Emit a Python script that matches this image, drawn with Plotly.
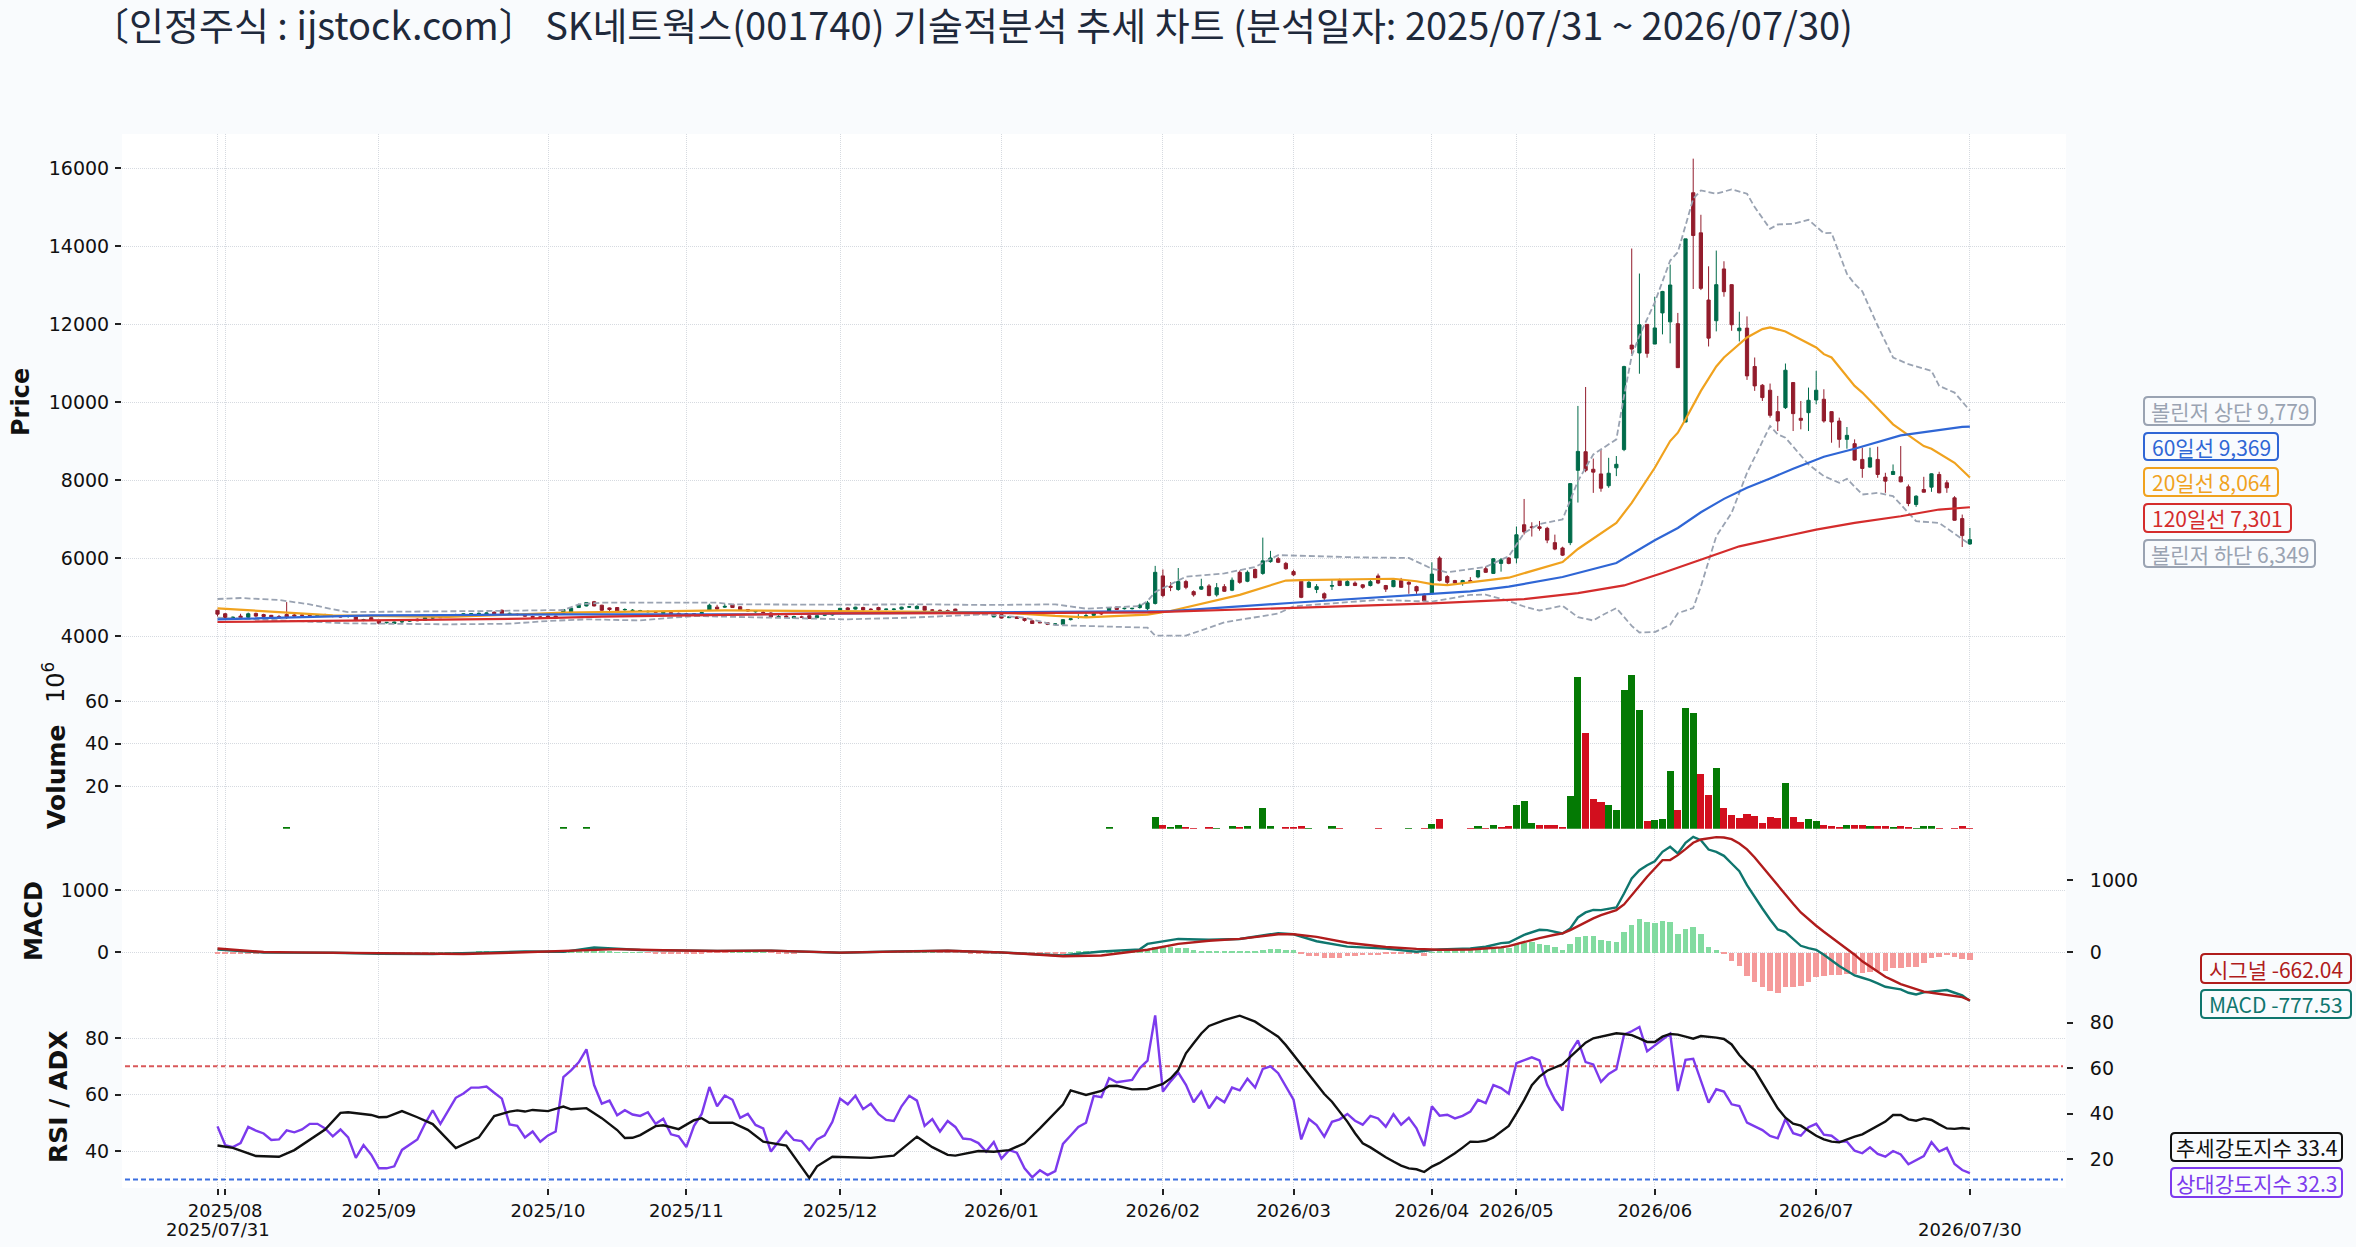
"""
SK네트웍스(001740) 기술적분석 추세 차트 - 캔들, 거래량, MACD, RSI/ADX 4단 구성
x축은 거래일 순번(0 ~ 228)을 쓰고 눈금 글자만 날짜로 표시한다.
"""

import plotly.graph_objects as go

# ── 캔들 (거래일 순번 0 ~ 228) ───────────────────────────────────────────────
opens = [
    4660, 4570, 4460, 4510, 4480, 4580, 4550, 4530, 4500, 4550,
    4540, 4540, 4530, 4520, 4530, 4510, 4510, 4500, 4500, 4410,
    4470, 4400, 4340, 4320, 4360, 4380, 4430, 4400, 4460, 4540,
    4490, 4530, 4530, 4560, 4570, 4570, 4610, 4660, 4570, 4560,
    4540, 4500, 4490, 4510, 4510, 4570, 4600, 4730, 4770, 4880,
    4790, 4720, 4730, 4670, 4650, 4640, 4620, 4620, 4580, 4600,
    4580, 4570, 4570, 4570, 4660, 4740, 4740, 4810, 4750, 4680,
    4620, 4610, 4590, 4490, 4510, 4460, 4490, 4520, 4470, 4530,
    4540, 4640, 4720, 4690, 4730, 4690, 4730, 4680, 4680, 4690,
    4740, 4700, 4760, 4670, 4660, 4650, 4690, 4620, 4600, 4590,
    4570, 4490, 4550, 4470, 4490, 4450, 4390, 4350, 4340, 4300,
    4300, 4420, 4480, 4500, 4530, 4580, 4640, 4740, 4700, 4700,
    4730, 4700, 4835, 5541, 5275, 5193, 5395, 5138, 5202, 5284,
    5055, 5266, 5174, 5633, 5404, 5706, 5605, 5908, 5982, 5862,
    5651, 5404, 5248, 5193, 5083, 5275, 5422, 5294, 5358, 5312,
    5294, 5541, 5294, 5266, 5422, 5376, 5266, 5037, 5083, 6000,
    5523, 5422, 5358, 5422, 5514, 5725, 5605, 5862, 6000, 6000,
    6853, 6800, 6800, 6761, 6394, 6257, 6394, 8248, 8725, 8275,
    8156, 7853, 8312, 8780, 11459, 11257, 11991, 11486, 12284, 12055,
    12009, 9486, 15366, 14338, 12615, 12084, 13412, 13009, 11827, 11895,
    10910, 10430, 10302, 9753, 9856, 10499, 9582, 9727, 10053, 10070,
    9753, 9513, 9042, 8931, 8528, 8331, 8528, 8074, 8142, 8082,
    7825, 7371, 7757, 7817, 8142, 7928, 7542, 7011, 6360,
]
highs = [
    4670, 4590, 4500, 4570, 4600, 4600, 4570, 4540, 4540, 4870,
    4570, 4550, 4550, 4540, 4570, 4530, 4530, 4530, 4520, 4440,
    4480, 4410, 4360, 4370, 4400, 4420, 4450, 4480, 4480, 4550,
    4540, 4570, 4580, 4590, 4600, 4600, 4630, 4680, 4600, 4590,
    4560, 4520, 4510, 4530, 4520, 4690, 4720, 4830, 4870, 4900,
    4800, 4730, 4740, 4710, 4690, 4670, 4660, 4640, 4620, 4620,
    4600, 4590, 4590, 4620, 4830, 4800, 4820, 4820, 4760, 4690,
    4650, 4640, 4610, 4540, 4530, 4520, 4520, 4530, 4530, 4560,
    4580, 4720, 4740, 4750, 4750, 4710, 4750, 4700, 4710, 4750,
    4770, 4790, 4770, 4690, 4680, 4680, 4700, 4640, 4620, 4610,
    4600, 4570, 4560, 4510, 4500, 4460, 4400, 4370, 4350, 4320,
    4430, 4450, 4560, 4600, 4590, 4610, 4740, 4760, 4730, 4720,
    4830, 4900, 5798, 5706, 5380, 5743, 5440, 5170, 5468, 5330,
    5358, 5330, 5500, 5680, 5680, 5730, 6523, 6183, 6030, 5900,
    5700, 5440, 5440, 5330, 5120, 5440, 5470, 5450, 5400, 5330,
    5450, 5600, 5310, 5470, 5490, 5420, 5290, 5100, 5890, 6046,
    5560, 5440, 5440, 5510, 5690, 5780, 6000, 6000, 6020, 6807,
    7514, 6917, 6950, 6800, 6600, 6290, 7920, 9899, 10385, 8550,
    8798, 8569, 8615, 10930, 13936, 13294, 12000, 12697, 12850, 13523,
    12284, 14183, 16240, 14801, 13480, 13883, 13609, 13020, 12315, 12195,
    11141, 10460, 10473, 10156, 10987, 10510, 10027, 10370, 10799, 10327,
    9760, 9599, 9359, 9042, 8828, 8828, 8853, 8185, 8399, 8871,
    7885, 7610, 8082, 8170, 8211, 7997, 7585, 7114, 6771,
]
lows = [
    4500, 4440, 4440, 4450, 4450, 4490, 4480, 4470, 4460, 4440,
    4480, 4500, 4500, 4490, 4500, 4480, 4480, 4470, 4380, 4380,
    4390, 4300, 4320, 4310, 4340, 4360, 4380, 4390, 4440, 4460,
    4470, 4510, 4510, 4540, 4540, 4550, 4560, 4560, 4540, 4520,
    4500, 4470, 4470, 4470, 4440, 4560, 4590, 4720, 4760, 4760,
    4650, 4620, 4630, 4650, 4630, 4620, 4600, 4590, 4560, 4550,
    4550, 4540, 4550, 4550, 4640, 4680, 4720, 4720, 4660, 4620,
    4600, 4580, 4480, 4470, 4470, 4450, 4470, 4440, 4460, 4510,
    4520, 4620, 4660, 4680, 4650, 4660, 4650, 4660, 4660, 4680,
    4720, 4690, 4650, 4650, 4640, 4630, 4620, 4570, 4570, 4560,
    4540, 4480, 4450, 4460, 4440, 4370, 4310, 4330, 4280, 4270,
    4290, 4400, 4440, 4480, 4500, 4540, 4620, 4670, 4680, 4680,
    4700, 4660, 4807, 4991, 5150, 5160, 5200, 5010, 5180, 5020,
    5010, 5130, 5150, 5340, 5380, 5480, 5570, 5880, 5870, 5700,
    5540, 4970, 5230, 5100, 4910, 5180, 5280, 5280, 5280, 5210,
    5270, 5330, 5130, 5250, 5240, 5082, 5080, 4880, 5050, 5400,
    5330, 5330, 5290, 5380, 5480, 5620, 5590, 5650, 5840, 5862,
    6600, 6550, 6700, 6380, 6200, 6050, 6330, 7422, 8200, 7670,
    7700, 7800, 8100, 8740, 11229, 10725, 11137, 11486, 11734, 11505,
    10881, 9486, 12898, 12870, 11424, 11811, 12700, 11827, 11553, 10567,
    10285, 10027, 9599, 9256, 9820, 9256, 9299, 9256, 9942, 9470,
    8956, 8828, 8802, 8500, 8057, 8314, 8057, 7671, 8140, 7940,
    7328, 7311, 7680, 7697, 7660, 7671, 6960, 6283, 6340,
]
closes = [
    4560, 4470, 4480, 4470, 4570, 4510, 4500, 4490, 4460, 4470,
    4510, 4530, 4520, 4530, 4510, 4500, 4490, 4510, 4400, 4420,
    4400, 4330, 4350, 4360, 4370, 4400, 4390, 4470, 4470, 4470,
    4520, 4540, 4570, 4570, 4580, 4590, 4570, 4570, 4580, 4550,
    4510, 4480, 4480, 4490, 4450, 4680, 4710, 4790, 4860, 4770,
    4660, 4680, 4640, 4680, 4660, 4650, 4630, 4610, 4610, 4570,
    4560, 4550, 4560, 4600, 4790, 4690, 4760, 4730, 4670, 4640,
    4630, 4600, 4490, 4500, 4490, 4500, 4480, 4450, 4520, 4550,
    4560, 4710, 4670, 4740, 4670, 4680, 4670, 4690, 4690, 4740,
    4750, 4760, 4660, 4660, 4650, 4640, 4640, 4590, 4580, 4570,
    4560, 4550, 4460, 4490, 4450, 4400, 4320, 4340, 4300, 4310,
    4420, 4440, 4490, 4520, 4580, 4570, 4730, 4680, 4710, 4710,
    4790, 4850, 5633, 5037, 5250, 5395, 5248, 5055, 5266, 5037,
    5239, 5147, 5431, 5376, 5633, 5495, 5927, 6000, 5890, 5725,
    5569, 4991, 5376, 5266, 4973, 5295, 5294, 5395, 5294, 5248,
    5394, 5358, 5202, 5422, 5248, 5330, 5156, 4899, 5587, 5422,
    5376, 5358, 5422, 5400, 5679, 5633, 5982, 5954, 5862, 6596,
    6670, 6780, 6760, 6459, 6229, 6073, 7908, 8734, 8248, 8202,
    7789, 8174, 8403, 10908, 11358, 11981, 11248, 11899, 12835, 13000,
    10881, 14183, 14269, 12915, 11638, 13009, 12829, 11981, 11895, 10670,
    10413, 10113, 9659, 9513, 10815, 9702, 9531, 10045, 10302, 9513,
    9488, 9042, 9145, 8511, 8296, 8571, 8142, 7971, 8219, 7954,
    7397, 7585, 7688, 8159, 7671, 7800, 6968, 6574, 6471,
]

# ── 이동평균 / 볼린저 밴드 (순번, 값) ─────────────────────────────────────────
ma20 = [(0, 4709), (10, 4598), (15, 4530), (30, 4487), (45, 4598), (66, 4658), (90, 4624), (102, 4606),
        (109, 4514), (113, 4480), (121, 4550), (124, 4642), (133, 5055), (139, 5422), (141, 5431),
        (147, 5450), (153, 5468), (156, 5404), (158, 5330), (160, 5303), (168, 5495), (175, 5897),
        (177, 6231), (182, 6900), (184, 7414), (187, 8314), (189, 8999), (190, 9213), (191, 9556),
        (193, 10285), (195, 10910), (196, 11141), (199, 11655), (201, 11870), (202, 11913), (204, 11810),
        (206, 11596), (208, 11398), (209, 11227), (210, 11141), (213, 10413), (214, 10242), (218, 9428),
        (220, 9154), (222, 8871), (223, 8803), (226, 8442), (228, 8064)]
ma60 = [(0, 4427), (10, 4487), (20, 4530), (30, 4538), (45, 4555), (66, 4555), (90, 4598), (102, 4610),
        (113, 4620), (124, 4640), (140, 4853), (158, 5083), (163, 5147), (168, 5266), (175, 5514),
        (182, 5871), (187, 6454), (190, 6771), (193, 7174), (196, 7517), (199, 7800), (202, 8039),
        (205, 8288), (209, 8596), (213, 8802), (219, 9145), (223, 9256), (227, 9360), (228, 9369)]
ma120 = [(0, 4359), (15, 4385), (25, 4400), (40, 4444), (50, 4496), (66, 4538), (80, 4581), (102, 4587),
         (121, 4606), (139, 4716), (158, 4835), (170, 4945), (177, 5100), (183, 5297), (188, 5614),
         (194, 6026), (198, 6300), (204, 6557), (208, 6728), (213, 6900), (219, 7071), (224, 7243), (228, 7301)]
bb_upper = [(0, 4949), (3, 4974), (8, 4923), (12, 4812), (15, 4684), (17, 4615), (35, 4641), (45, 4667),
            (47, 4812), (50, 4855), (65, 4855), (67, 4812), (80, 4803), (92, 4812), (100, 4795), (109, 4812),
            (113, 4701), (120, 4769), (121, 4897), (122, 5128), (126, 5523), (131, 5606), (135, 5771),
            (138, 6073), (148, 6018), (155, 6000), (158, 5725), (160, 5633), (165, 5771), (168, 6046),
            (170, 6642), (172, 6872), (175, 6990), (177, 7971), (179, 8656), (182, 9042), (183, 10156),
            (184, 11184), (185, 11698), (187, 12555), (189, 13626), (190, 13841), (192, 15212), (193, 15425),
            (195, 15340), (197, 15452), (199, 15340), (200, 14997), (202, 14440), (203, 14552), (205, 14569),
            (207, 14672), (209, 14329), (210, 14337), (212, 13284), (213, 13027), (214, 12838), (216, 11955),
            (218, 11141), (220, 10970), (223, 10799), (224, 10413), (226, 10242), (228, 9779)]
bb_lower = [(0, 4470), (6, 4427), (10, 4385), (17, 4325), (30, 4299), (38, 4315), (43, 4385), (48, 4427),
            (55, 4400), (62, 4513), (66, 4496), (75, 4470), (82, 4427), (90, 4470), (100, 4555), (105, 4470),
            (109, 4280), (121, 4214), (122, 4009), (126, 4009), (131, 4349), (138, 4578), (140, 4761),
            (151, 4927), (158, 4881), (163, 5055), (165, 5060), (168, 4899), (170, 4757), (172, 4655),
            (175, 4775), (177, 4483), (179, 4398), (180, 4517), (182, 4715), (184, 4260), (185, 4090),
            (187, 4100), (189, 4286), (190, 4586), (192, 4715), (193, 5272), (195, 6557), (196, 6857),
            (197, 7157), (199, 8185), (202, 9385), (203, 9171), (204, 9085), (207, 8399), (209, 8100),
            (211, 7928), (212, 8031), (214, 7628), (216, 7671), (218, 7585), (221, 6943), (224, 6900), (228, 6349)]

# ── 거래량 (백만 주) ──────────────────────────────────────────────────────────
volume = [
    0, 0, 0, 0, 0, 0, 0, 0, 0, .9,
    0, 0, 0, 0, 0, 0, 0, 0, 0, 0,
    0, 0, 0, 0, 0, 0, 0, 0, 0, 0,
    0, 0, 0, 0, 0, 0, 0, 0, 0, 0,
    0, 0, 0, 0, 0, .4, 0, 0, .8, 0,
    0, 0, 0, 0, 0, 0, 0, 0, 0, 0,
    0, 0, 0, 0, 0, 0, 0, 0, 0, 0,
    0, 0, 0, 0, 0, 0, 0, 0, 0, 0,
    0, 0, 0, 0, 0, 0, 0, 0, 0, 0,
    0, 0, 0, 0, 0, 0, 0, 0, 0, 0,
    0, 0, 0, 0, 0, 0, 0, 0, 0, 0,
    0, 0, 0, 0, 0, 0, .4, 0, 0, 0,
    0, 0, 5.6, 2, .7, 2, .4, .2, 0, .7,
    .3, 0, 1.1, .7, 1.1, 0, 10, 1.5, 0, .7,
    .7, 1.5, .3, 0, 0, 1.1, .3, 0, 0, 0,
    0, .3, 0, 0, 0, .3, 0, .3, 2.2, 4.4,
    0, 0, 0, .3, 1.1, .2, 1.9, .8, 1.1, 11.1,
    13, 2.5, 1.6, 1.6, 1.6, .8, 15.4, 71.3, 45, 14,
    12.6, 11.1, 8.8, 65.1, 72.3, 56, 3.5, 4, 4.5, 27.4,
    8.8, 57, 54.6, 25.8, 15.9, 28.8, 9.7, 6.4, 4.9, 6.8,
    5.9, 2.5, 5.4, 4.9, 21.7, 5.4, 3, 4.5, 3.5, 1.6,
    1.1, .6, 1.6, 1.6, 1.6, 1.1, 1.1, 1.1, .6, 1.1,
    .6, .3, 1.1, 1.1, .3, 0, .3, 1.1, .3,
]

# ── MACD ──────────────────────────────────────────────────────────────────────
macd_hist = [
    -25, -25, -20, -18, -10, -6, -3, -2, -3, -2,
    -2, -2, 2, -2, -3, -2, -3, -4, -4, -8,
    -15, -15, -12, -10, -8, -8, -6, -4, 2, 4,
    6, 8, 8, 10, 12, 12, 10, 10, 8, 8,
    6, 5, 3, 2, 3, 15, 20, 22, 20, 18,
    15, 12, 8, 5, 3, 1, -3, -6, -8, -8,
    -10, -12, -15, -12, -5, -3, -2, 2, 2, 3,
    3, 2, -5, -8, -10, -8, -5, -3, -2, 0,
    -3, 3, 5, 8, 8, 6, 6, 4, 4, 6,
    6, 5, 4, 2, -2, -3, -4, -5, -6, -6,
    -6, -8, -8, -8, -10, -10, -10, -8, -8, -10,
    -10, 5, 15, 25, 25, 25, 25, 30, 30, 45,
    45, 45, 93, 93, 93, 75, 75, 45, 25, 25,
    25, 25, 25, 25, 25, 25, 45, 60, 60, 45,
    45, -20, -50, -50, -80, -80, -80, -50, -50, -35,
    -35, -35, -25, -25, -20, -20, -20, -50, 10, 43,
    43, 43, 43, 43, 48, 59, 70, 70, 75, 134,
    155, 166, 144, 118, 91, 37, 134, 251, 262, 262,
    198, 182, 166, 326, 438, 535, 487, 471, 503, 487,
    294, 374, 406, 294, 86, 37, -21, -139, -219, -380,
    -476, -556, -620, -652, -556, -556, -540, -476, -396, -380,
    -364, -364, -348, -348, -332, -316, -300, -300, -251, -251,
    -235, -235, -171, -91, -75, -43, -75, -107, -123,
]
macd_line = [(0, 45), (3, 25), (6, 0), (15, -5), (21, -20), (28, -25), (35, 0), (40, 15), (45, 10), (49, 80),
             (55, 40), (65, 25), (72, 30), (81, -5), (88, 15), (95, 28), (102, 0), (110, -50), (112, -20),
             (115, 15), (120, 50), (121, 137), (125, 217), (129, 205), (133, 217), (138, 310), (140, 292),
             (143, 180), (147, 93), (152, 62), (156, 12), (159, 50), (163, 64), (165, 91), (167, 150), (168, 160),
             (170, 283), (172, 364), (173, 358), (175, 305), (176, 385), (177, 561), (178, 642), (179, 684),
             (180, 679), (181, 706), (182, 722), (183, 947), (184, 1187), (185, 1321), (186, 1401), (187, 1465),
             (188, 1615), (189, 1695), (190, 1588), (191, 1759), (192, 1856), (193, 1802), (194, 1652), (195, 1615),
             (196, 1551), (197, 1428), (198, 1305), (199, 1080), (200, 882), (201, 706), (202, 529), (203, 369),
             (204, 326), (205, 209), (206, 107), (207, 70), (208, 43), (209, -37), (210, -134), (211, -219),
             (212, -294), (213, -369), (214, -406), (215, -444), (216, -497), (217, -551), (218, -572), (219, -594),
             (220, -647), (221, -674), (222, -642), (223, -626), (224, -615), (225, -604), (226, -647), (227, -690),
             (228, -777.53)]
macd_signal = [(0, 53), (3, 30), (6, 5), (10, 0), (15, -5), (21, -15), (28, -28), (32, -22), (38, -5), (43, 15),
               (47, 25), (52, 45), (58, 30), (65, 20), (72, 25), (81, -3), (88, 10), (95, 22), (102, 0), (110, -53),
               (115, -43), (121, 37), (125, 118), (129, 160), (133, 187), (138, 251), (140, 251), (143, 214),
               (147, 134), (152, 75), (156, 48), (159, 37), (163, 41), (165, 55), (167, 69), (168, 87), (170, 143),
               (172, 198), (174, 244), (175, 262), (176, 308), (177, 364), (178, 419), (179, 470), (180, 516),
               (182, 585), (183, 663), (184, 792), (185, 916), (186, 1045), (187, 1160), (188, 1275), (189, 1275),
               (190, 1344), (191, 1427), (192, 1515), (193, 1561), (194, 1579), (195, 1593), (196, 1588), (197, 1565),
               (198, 1505), (199, 1423), (200, 1312), (201, 1183), (202, 1054), (203, 916), (204, 787), (205, 672),
               (206, 552), (207, 456), (208, 368), (209, 285), (210, 207), (211, 124), (212, 50), (213, -32),
               (214, -124), (215, -198), (216, -271), (217, -336), (218, -387), (219, -437), (220, -474), (221, -511),
               (222, -543), (223, -557), (224, -571), (225, -589), (226, -603), (227, -617), (228, -662.04)]

# ── RSI / ADX ─────────────────────────────────────────────────────────────────
rsi = [
    48.8, 42.2, 41.5, 42.9, 48.6, 47.3, 46.3, 44, 44.2, 47.4,
    46.7, 47.7, 49.7, 49.7, 48.1, 45.3, 47.7, 44.9, 37.7, 42.2,
    38.8, 34, 34, 34.7, 40.5, 42.2, 44.2, 49.7, 54.5, 49.7,
    54.5, 58.9, 60.4, 62.5, 62.5, 62.9, 60.7, 58.6, 49.5, 49,
    44.9, 47, 43.4, 45.6, 47, 66.2, 68.6, 71.4, 76, 63.4,
    56.8, 57.9, 52.7, 54.5, 53, 52.5, 53.8, 49.7, 51.5, 46,
    45.3, 41.5, 49, 53.2, 62.7, 55.9, 59.7, 58.2, 51.8, 53.2,
    49.3, 48.1, 39.9, 43.3, 47, 44, 43.6, 40.4, 44.2, 45.6,
    50.4, 58.6, 56.6, 59.6, 54.9, 56.8, 53.2, 51.1, 50.7, 55.9,
    59.6, 57.9, 49, 51.4, 47, 50.7, 48.6, 44.5, 44.2, 42.9,
    39.9, 43.3, 37.4, 40.4, 39.5, 34, 30.8, 33.3, 31.6, 33,
    42.6, 45.6, 48.6, 50.1, 59.6, 59.1, 65.8, 64.4, 64.8, 65.2,
    69.4, 72, 88, 61.1, 64.7, 67.8, 63.5, 57.3, 61.1, 55.2,
    59.1, 57.3, 62.5, 61.5, 65.6, 62.5, 69.1, 70, 67.6, 62.9,
    58.2, 44.2, 51.4, 49.3, 45.2, 50.4, 51.3, 53.2, 50.8, 49.4,
    52.5, 51.6, 48.7, 53.1, 49.4, 51.8, 48.1, 41.9, 55.9, 52.6,
    52.9, 51.6, 52.5, 54, 58.2, 57, 63.4, 62.3, 60.3, 71.1,
    72.1, 73.2, 72.1, 63.5, 58.2, 54.4, 74.9, 79.2, 71.5, 70.7,
    64.5, 67.3, 69, 81.2, 82.4, 83.9, 75.3, 77.3, 79.6, 81.5,
    61.3, 72.3, 72.7, 64.7, 57.2, 61.9, 61.1, 56.6, 56, 50.1,
    48.7, 47.5, 45.4, 44.6, 51.4, 46.4, 45.5, 48.5, 49.7, 45.9,
    45.5, 43.4, 43.4, 40.2, 39.3, 41.4, 39.1, 38.1, 40.1, 38.9,
    35.4, 36.8, 38.3, 43.2, 39.9, 41.2, 35.5, 33.4, 32.3,
]
adx = [(0, 26.1), (2, 25.1), (5, 21.5), (8, 21.2), (10, 24.1), (14, 33.1), (16, 40.4), (17, 40.7), (20, 39.5),
       (21, 38.5), (22, 38.6), (24, 41.2), (26, 38.5), (28, 35.5), (31, 25), (34, 29.7), (36, 39), (38, 41),
       (39, 41.5), (40, 41), (41, 41.7), (43, 41.2), (45, 43.2), (46, 42), (48, 42.5), (50, 38.1), (52, 32.9),
       (53, 29.4), (54, 29.5), (55, 30.7), (57, 34.6), (58, 35), (60, 33.3), (62, 37.2), (63, 38.1), (64, 36.1),
       (67, 36.1), (69, 33), (71, 27.8), (74, 26.1), (77, 11.9), (78, 17), (80, 21.2), (82, 21), (85, 20.7),
       (88, 21.7), (91, 30), (93, 25.4), (95, 22), (96, 21.7), (99, 23.7), (101, 23.4), (103, 24.1), (105, 27.1),
       (107, 33.6), (110, 44.1), (111, 50.3), (113, 48.3), (115, 50), (116, 52.2), (117, 52.3), (119, 50.7),
       (121, 50.9), (123, 53.1), (124, 55.5), (125, 59.2), (126, 66.5), (127, 70.9), (128, 75.2), (129, 78.5),
       (130, 79.9), (131, 81.1), (133, 83), (135, 80.4), (136, 78.2), (137, 76), (138, 73.8), (139, 70.1),
       (140, 65.8), (141, 61.4), (142, 57), (143, 52.6), (144, 48.7), (145, 45.3), (146, 41), (147, 36.6),
       (148, 31.5), (149, 27.1), (150, 25.3), (151, 23.1), (152, 21), (153, 19.1), (154, 17.3), (155, 16.1),
       (156, 15.7), (157, 14.5), (158, 16.9), (159, 18.5), (160, 20.5), (161, 22.7), (162, 25.2), (163, 27.8),
       (164, 27.7), (165, 28.2), (166, 29.7), (167, 32), (168, 34.7), (169, 40.2), (170, 46), (171, 52.6),
       (172, 56.3), (173, 58.9), (174, 60.2), (175, 61.7), (176, 65), (177, 68), (178, 71.2), (179, 73.1),
       (180, 73.8), (181, 74.5), (182, 75.3), (183, 75), (184, 74.5), (185, 73.1), (186, 71.5), (187, 71.5),
       (188, 73.8), (189, 75), (190, 74.7), (191, 73.8), (192, 72.9), (193, 74.1), (194, 73.8), (195, 73.4),
       (196, 72.8), (197, 70.4), (198, 65.8), (199, 62.1), (200, 59.2), (201, 53.4), (202, 48.2), (203, 42.4),
       (204, 38.3), (205, 35.7), (206, 34.8), (207, 32.6), (208, 30.4), (209, 28.8), (210, 27.8), (211, 27.5),
       (212, 28.8), (213, 30), (214, 31), (215, 32.9), (216, 34.7), (217, 36.6), (218, 39.5), (219, 39.5),
       (220, 37.6), (221, 37), (222, 38), (223, 37.3), (224, 35.4), (225, 33.6), (226, 33.4), (227, 33.8), (228, 33.4)]

# ── x축 눈금 ──────────────────────────────────────────────────────────────────
tick_idx = [1, 21, 43, 61, 81, 102, 123, 140, 158, 169, 187, 208]
tick_txt = ["2025/08", "2025/09", "2025/10", "2025/11", "2025/12", "2026/01",
            "2026/02", "2026/03", "2026/04", "2026/05", "2026/06", "2026/07"]
end_idx = [0, 228]
end_txt = ["2025/07/31", "2026/07/30"]

assert len(opens) == len(highs) == len(lows) == len(closes) == len(volume) == len(macd_hist) == len(rsi) == 229

# ── 화면 배치 (픽셀 기준) ─────────────────────────────────────────────────────
W, H = 2356, 1247
LEFT, RIGHT, TOP, BOTTOM = 122, 2066, 134, 1188


def px(x):
    return (x - LEFT) / (RIGHT - LEFT)


def py(y):
    return (BOTTOM - y) / (BOTTOM - TOP)


COLOR_UP = "#006b4a"
COLOR_DOWN = "#931c2c"
COLOR_MA20 = "#f0a21e"
COLOR_MA60 = "#2f66d5"
COLOR_MA120 = "#d42c2c"
COLOR_BB = "#9aa3b2"
COLOR_MACD = "#0f766e"
COLOR_SIGNAL = "#b01c1c"
COLOR_RSI = "#7c3aed"
COLOR_ADX = "#111111"
FONT_KR = "Noto Sans CJK KR"
FONT_TICK = "DejaVu Sans"

idx = list(range(len(closes)))
vol_colors = ["#047a04" if i == 0 or closes[i] >= closes[i - 1] else "#d20f1e" for i in idx]
hist_colors = ["#82dba0" if v >= 0 else "#f59a9a" for v in macd_hist]


def add_line(points, yaxis, color, width=2.2, dash=None):
    xs, ys = zip(*points)
    fig.add_trace(go.Scatter(x=xs, y=ys, yaxis=yaxis, mode="lines",
                             line=dict(color=color, width=width, dash=dash)))


fig = go.Figure()

fig.add_trace(go.Candlestick(
    x=idx, open=opens, high=highs, low=lows, close=closes, yaxis="y",
    increasing=dict(line=dict(color=COLOR_UP, width=1), fillcolor=COLOR_UP),
    decreasing=dict(line=dict(color=COLOR_DOWN, width=1), fillcolor=COLOR_DOWN),
))
add_line(bb_upper, "y", COLOR_BB, 1.8, "6px,3px")
add_line(bb_lower, "y", COLOR_BB, 1.8, "6px,3px")
add_line(ma20, "y", COLOR_MA20)
add_line(ma60, "y", COLOR_MA60)
add_line(ma120, "y", COLOR_MA120)

fig.add_trace(go.Bar(x=idx, y=volume, yaxis="y2", marker=dict(color=vol_colors, line_width=0), width=0.92))

fig.add_trace(go.Bar(x=idx, y=macd_hist, yaxis="y3", marker=dict(color=hist_colors, line_width=0), width=0.72))
add_line(macd_line, "y3", COLOR_MACD, 2.4)
add_line(macd_signal, "y4", COLOR_SIGNAL, 2.4)

fig.add_trace(go.Scatter(x=idx, y=rsi, yaxis="y5", mode="lines", line=dict(color=COLOR_RSI, width=2.4)))
add_line(adx, "y6", COLOR_ADX, 2.4)

# 과매수 / 과매도 기준선
for level, color in [(70, "#d9585a"), (30, "#3b6fe0")]:
    fig.add_shape(type="line", xref="paper", yref="y5", x0=px(125), x1=px(2063), y0=level, y1=level,
                  line=dict(color=color, width=2, dash="5px,3px"), layer="below")

# 오른쪽 값 라벨 (둥근 테두리 + 글자)
side_labels = [
    ("볼린저 상단 9,779", COLOR_BB, 2144, 2315, 397, 425),
    ("60일선 9,369", COLOR_MA60, 2144, 2278, 433, 460),
    ("20일선 8,064", COLOR_MA20, 2144, 2278, 468, 496),
    ("120일선 7,301", COLOR_MA120, 2144, 2291, 504, 532),
    ("볼린저 하단 6,349", COLOR_BB, 2144, 2315, 540, 567),
    ("시그널 -662.04", COLOR_SIGNAL, 2201, 2351, 954, 983),
    ("MACD -777.53", COLOR_MACD, 2201, 2351, 990, 1018),
    ("추세강도지수 33.4", COLOR_ADX, 2171, 2342, 1133, 1161),
    ("상대강도지수 32.3", COLOR_RSI, 2171, 2342, 1168, 1197),
]


def round_box(x0, x1, y0, y1, r=4):
    return (f"M {px(x0 + r)} {py(y0)} L {px(x1 - r)} {py(y0)} Q {px(x1)} {py(y0)} {px(x1)} {py(y0 + r)} "
            f"L {px(x1)} {py(y1 - r)} Q {px(x1)} {py(y1)} {px(x1 - r)} {py(y1)} "
            f"L {px(x0 + r)} {py(y1)} Q {px(x0)} {py(y1)} {px(x0)} {py(y1 - r)} "
            f"L {px(x0)} {py(y0 + r)} Q {px(x0)} {py(y0)} {px(x0 + r)} {py(y0)} Z")


for text, color, x0, x1, y0, y1 in side_labels:
    fig.add_shape(type="path", xref="paper", yref="paper", path=round_box(x0, x1, y0, y1),
                  line=dict(color=color, width=2))
    fig.add_annotation(xref="paper", yref="paper", x=px((x0 + x1) / 2), y=py((y0 + y1) / 2), text=text,
                       showarrow=False, xanchor="center", yanchor="middle",
                       font=dict(family=FONT_KR, size=21, color=color))

# 왼쪽 패널 제목
for text, x, y, size in [("Price", 21, 402, 24), ("Volume", 56, 777, 25), ("MACD", 34, 921, 24), ("RSI / ADX", 58, 1097, 25)]:
    fig.add_annotation(xref="paper", yref="paper", x=px(x), y=py(y), text=f"<b>{text}</b>", textangle=-90,
                       xanchor="center", yanchor="middle", showarrow=False,
                       font=dict(family=FONT_TICK, size=size, color="#111111"))
fig.add_annotation(xref="paper", yref="paper", x=px(54), y=py(683), text="10<sup>6</sup>", textangle=-90,
                   xanchor="center", yanchor="middle", showarrow=False,
                   font=dict(family=FONT_TICK, size=24, color="#111111"))

# 시작일 / 종료일은 월 눈금 아래 둘째 줄에 표시
for i, text in zip(end_idx, end_txt):
    fig.add_annotation(xref="x", yref="paper", x=i, y=py(1229), text=text, showarrow=False,
                       xanchor="center", yanchor="middle",
                       font=dict(family=FONT_TICK, size=18, color="#111111"))

GRID = dict(showgrid=True, gridcolor="#d6dae0", griddash="1px,1px", gridwidth=1)
AXIS_COMMON = dict(
    showline=False, zeroline=False, ticks="outside", ticklen=6, tickwidth=2, tickcolor="#222222",
    tickfont=dict(family=FONT_TICK, size=19, color="#111111"), ticklabelstandoff=2, tickmode="array", **GRID,
)

fig.update_layout(
    width=W, height=H,
    margin=dict(l=LEFT, r=W - RIGHT, t=TOP, b=H - BOTTOM, pad=0),
    paper_bgcolor="#f9fbfd", plot_bgcolor="#ffffff",
    showlegend=False, bargap=0, barmode="overlay", boxgap=0.4,
    title=dict(text="〔인정주식 : ijstock.com〕 SK네트웍스(001740) 기술적분석 추세 차트 (분석일자: 2025/07/31 ~ 2026/07/30)",
               x=91 / W, y=1 - 27 / H, xanchor="left", yanchor="middle",
               font=dict(family=FONT_KR, size=38, color="#1e293b")),
    xaxis=dict(
        range=[(LEFT - 217.5) / 7.686, (RIGHT - 217.5) / 7.686], rangeslider_visible=False, anchor="y5",
        showline=False, zeroline=False, ticks="outside", ticklen=6, tickwidth=1.5, tickcolor="#222222",
        tickmode="array", tickvals=tick_idx, ticktext=tick_txt, tickangle=0,
        tickfont=dict(family=FONT_TICK, size=18, color="#111111"),
        minor=dict(tickmode="array", tickvals=end_idx, ticks="outside", ticklen=6, tickwidth=1.5,
                   tickcolor="#222222", **GRID),
        **GRID,
    ),
    yaxis=dict(domain=[py(652), py(TOP)], range=[3590, 16872], tickvals=[4000, 6000, 8000, 10000, 12000, 14000, 16000],
               tickformat="d", **AXIS_COMMON),
    yaxis2=dict(domain=[py(828.8), py(652)], range=[0, 83.2], tickvals=[20, 40, 60], **AXIS_COMMON),
    yaxis3=dict(domain=[py(1010), py(828.8)], range=[-924, 1985], tickvals=[0, 1000], tickformat="d", **AXIS_COMMON),
    yaxis4=dict(domain=[py(1010), py(828.8)], range=[-796, 1708], tickvals=[0, 1000], tickformat="d",
                overlaying="y3", side="right", **{**AXIS_COMMON, "showgrid": False, "ticklabelstandoff": 13}),
    yaxis5=dict(domain=[0, py(1010)], range=[27.04, 89.9], tickvals=[40, 60, 80], **AXIS_COMMON),
    yaxis6=dict(domain=[0, py(1010)], range=[7.5, 85.5], tickvals=[20, 40, 60, 80],
                overlaying="y5", side="right", **{**AXIS_COMMON, "showgrid": False, "ticklabelstandoff": 13}),
)

fig.write_html(
    "out.html",
    config={"displayModeBar": False},
    post_script="document.body.style.margin='0';document.body.style.height='1247px';"
                "document.body.style.overflow='hidden';document.documentElement.style.overflow='hidden';",
)
